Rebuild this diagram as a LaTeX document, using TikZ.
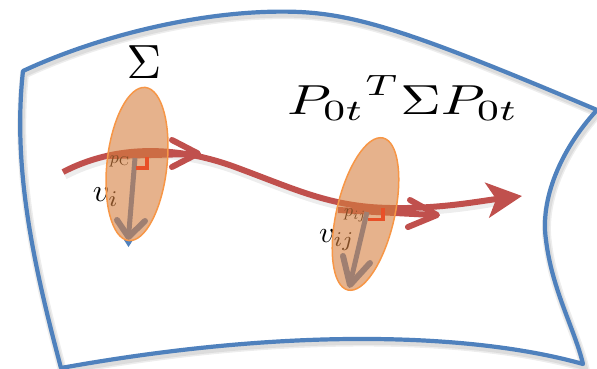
\documentclass[tikz,border=0pt]{standalone}
\usepackage{graphicx}
\usetikzlibrary{arrows.meta}
\definecolor{surfblue}{RGB}{79,129,189}
\definecolor{curvered}{RGB}{192,80,77}
\definecolor{ellfill}{RGB}{213,127,63}
\definecolor{ellline}{RGB}{247,150,70}
\definecolor{markred}{RGB}{232,80,40}
\tikzset{
 surface/.style={draw=surfblue, line width=4.2pt, line join=round},
 flow/.style={draw=curvered, line width=6pt},
 barb/.style={draw=curvered, line width=6pt, line cap=round, line join=round},
 vshaft/.style={draw=surfblue, line width=5pt},
 vbarb/.style={draw=surfblue, line width=6pt, line cap=round, line join=round},
 disk/.style={fill=ellfill, fill opacity=0.6, draw=ellline, line width=1.5pt},
 rightmark/.style={draw=markred, line width=3.5pt},
 lbl/.style={inner sep=0pt, text=black},
 shade/.style={draw=black, draw opacity=0.07, shift={(1.5pt,-3pt)}},
}
\begin{document}
\begin{tikzpicture}[x=1pt,y=-1pt]
\useasboundingbox (0,0) rectangle (597,369);
% surface shadow + surface
\foreach \w in {9,6}{
\draw[shade, line width=\w pt] (23,71) .. controls (100,35) and (210,8) .. (300,12)
  .. controls (360,15) and (420,35) .. (597,110)
  .. controls (560,150) and (540,200) .. (546,240)
  .. controls (552,290) and (575,330) .. (583,364)
  .. controls (480,335) and (300,325) .. (61,368)
  .. controls (35,270) and (12,170) .. cycle;}
\draw[surface] (23,71) .. controls (100,35) and (210,8) .. (300,12)
  .. controls (360,15) and (420,35) .. (597,110)
  .. controls (560,150) and (540,200) .. (546,240)
  .. controls (552,290) and (575,330) .. (583,364)
  .. controls (480,335) and (300,325) .. (61,368)
  .. controls (35,270) and (12,170) .. cycle;
% flow curve
\draw[shade, line width=9pt] (63,172) .. controls (115,145) and (175,145) .. (235,167)
  .. controls (295,189) and (330,207) .. (390,208)
  .. controls (440,209) and (480,201) .. (500,198);
\draw[flow, -{Stealth[length=35pt, width=35pt, inset=9pt]}] (63,172) .. controls (115,145) and (175,145) .. (235,167)
  .. controls (295,189) and (330,207) .. (390,208)
  .. controls (440,209) and (480,201) .. (522,196);
% tangent arrows
\draw[flow] (108,156) -- (194,154);
\draw[barb] (172,140) -- (198,153.5) -- (172,167);
\draw[flow] (338,210) -- (433,215);
\draw[barb] (410,200) -- (437,215) -- (408,227);
% normal vectors
\draw[vshaft] (135,158) -- (128.5,237);
\draw[vbarb] (117,220) -- (128.5,237) -- (145,221);
\fill[surfblue] (124,240) -- (133,240) -- (128.5,247) -- cycle;
\draw[vshaft] (367,212) -- (350,284);
\draw[vbarb] (343,256) -- (350,285) -- (370,263);
% labels
\node[lbl] (pc) at (120,161) {\scalebox{1.8}{$p_{\mathrm{C}}$}};
\node[lbl] (vi) at (106,197) {\scalebox{3.2}{$v_i$}};
\node[lbl] (pij) at (355,215) {\scalebox{1.8}{$p_{ij}$}};
\node[lbl] (vij) at (337,240) {\scalebox{3.0}{$v_{ij}$}};
% ellipses
\draw[disk, rotate around={-6.3:(137,164)}] (137,164) ellipse [x radius=30, y radius=77];
\draw[disk, rotate around={-13:(365.5,214)}] (365.5,214) ellipse [x radius=29, y radius=78];
% right-angle marks
\draw[rightmark] (147,157) -- (147,168) -- (136,168);
\draw[rightmark] (383,208) -- (383,219.5) -- (368,219.5);
% titles
\node[lbl] (sig) at (144,62) {\scalebox{4.8}{$\Sigma$}};
\node[lbl] (cov) at (403,98) {\scalebox{5.6}[4.2]{${P_{0t}}^{T}\Sigma P_{0t}$}};
\end{tikzpicture}
\end{document}
